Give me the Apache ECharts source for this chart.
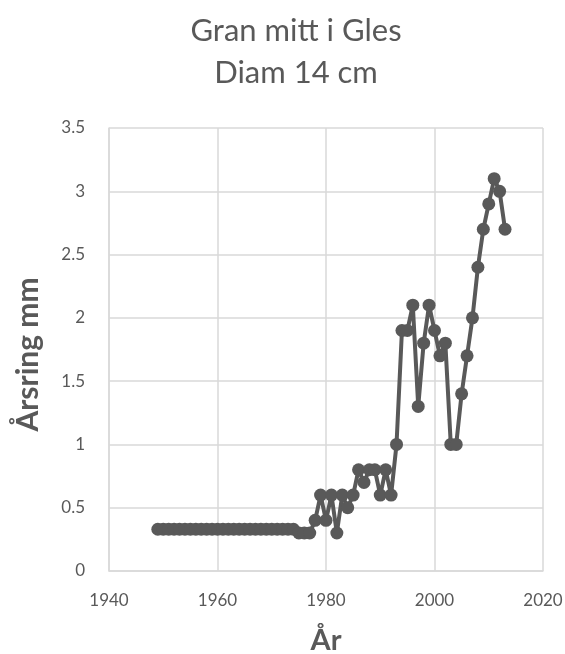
<!DOCTYPE html>
<html>
<head>
<meta charset="utf-8">
<script src="https://cdn.jsdelivr.net/npm/echarts@6/dist/echarts.min.js"></script>
<style>
  html, body { margin: 0; padding: 0; background: #fff; }
  #chart { width: 565px; height: 654px; }
</style>
</head>
<body>
<div id="chart"></div>
<script>
// år 1949 - 2013
var years = []
for (var y = 1949; y <= 2013; y++) years.push(y)
var values = [
  0.33, 0.33, 0.33, 0.33, 0.33, 0.33, 0.33, 0.33, 0.33, 0.33, // 1949-1958
  0.33, 0.33, 0.33, 0.33, 0.33, 0.33, 0.33, 0.33, 0.33, 0.33, // 1959-1968
  0.33, 0.33, 0.33, 0.33, 0.33, 0.33,                         // 1969-1974
  0.3, 0.3, 0.3, 0.4, 0.6, 0.4, 0.6, 0.3, 0.6, 0.5,           // 1975-1984
  0.6, 0.8, 0.7, 0.8, 0.8, 0.6, 0.8, 0.6, 1.0, 1.9,           // 1985-1994
  1.9, 2.1, 1.3, 1.8, 2.1, 1.9, 1.7, 1.8, 1.0, 1.0,           // 1995-2004
  1.4, 1.7, 2.0, 2.4, 2.7, 2.9, 3.1, 3.0, 2.7                 // 2005-2013
]
var titleLines = ['Gran mitt i Gles', 'Diam 14 cm']
var xName = 'År'
var yName = 'Årsring mm'

var font = 'Lato, "Open Sans", sans-serif'
var chart = echarts.init(document.getElementById('chart'))
chart.setOption({
  animation: false,
  title: {
    text: titleLines.join('\n'),
    left: 291,
    top: 5,
    textAlign: 'center',
    textStyle: {
      fontFamily: font,
      fontSize: 31,
      fontWeight: 'normal',
      color: '#595959',
      lineHeight: 42
    }
  },
  grid: {
    left: 109,
    right: 22,
    top: 128,
    bottom: 83,
    outerBoundsMode: 'none'
  },
  xAxis: {
    type: 'value',
    min: 1940,
    max: 2020,
    interval: 20,
    name: xName,
    nameLocation: 'middle',
    nameGap: 55,
    nameTextStyle: {
      fontFamily: font,
      fontSize: 29,
      fontWeight: 'bold',
      color: '#595959'
    },
    axisLine: { lineStyle: { color: '#d9d9d9', width: 1.5 } },
    axisTick: { show: false },
    axisLabel: {
      fontFamily: font,
      fontSize: 17,
      color: '#595959',
      margin: 21,
      formatter: function (v) { return String(v) }
    },
    splitLine: { show: true, lineStyle: { color: '#d9d9d9', width: 1.5 } }
  },
  yAxis: {
    type: 'value',
    min: 0,
    max: 3.5,
    interval: 0.5,
    name: yName,
    nameLocation: 'middle',
    nameGap: 66,
    nameTextStyle: {
      fontFamily: font,
      fontSize: 30,
      fontWeight: 'bold',
      color: '#595959',
      padding: [0, 10, 0, 0]
    },
    axisLine: { show: true, lineStyle: { color: '#d9d9d9', width: 1.5 } },
    axisTick: { show: false },
    axisLabel: {
      fontFamily: font,
      fontSize: 17,
      color: '#595959',
      margin: 24
    },
    splitLine: { lineStyle: { color: '#d9d9d9', width: 1.5 } }
  },
  series: [{
    type: 'line',
    data: years.map(function (yr, i) { return [yr, values[i]] }),
    symbol: 'circle',
    symbolSize: 13,
    showAllSymbol: true,
    itemStyle: { color: '#595959' },
    lineStyle: { color: '#595959', width: 4 }
  }]
})
</script>
</body>
</html>
